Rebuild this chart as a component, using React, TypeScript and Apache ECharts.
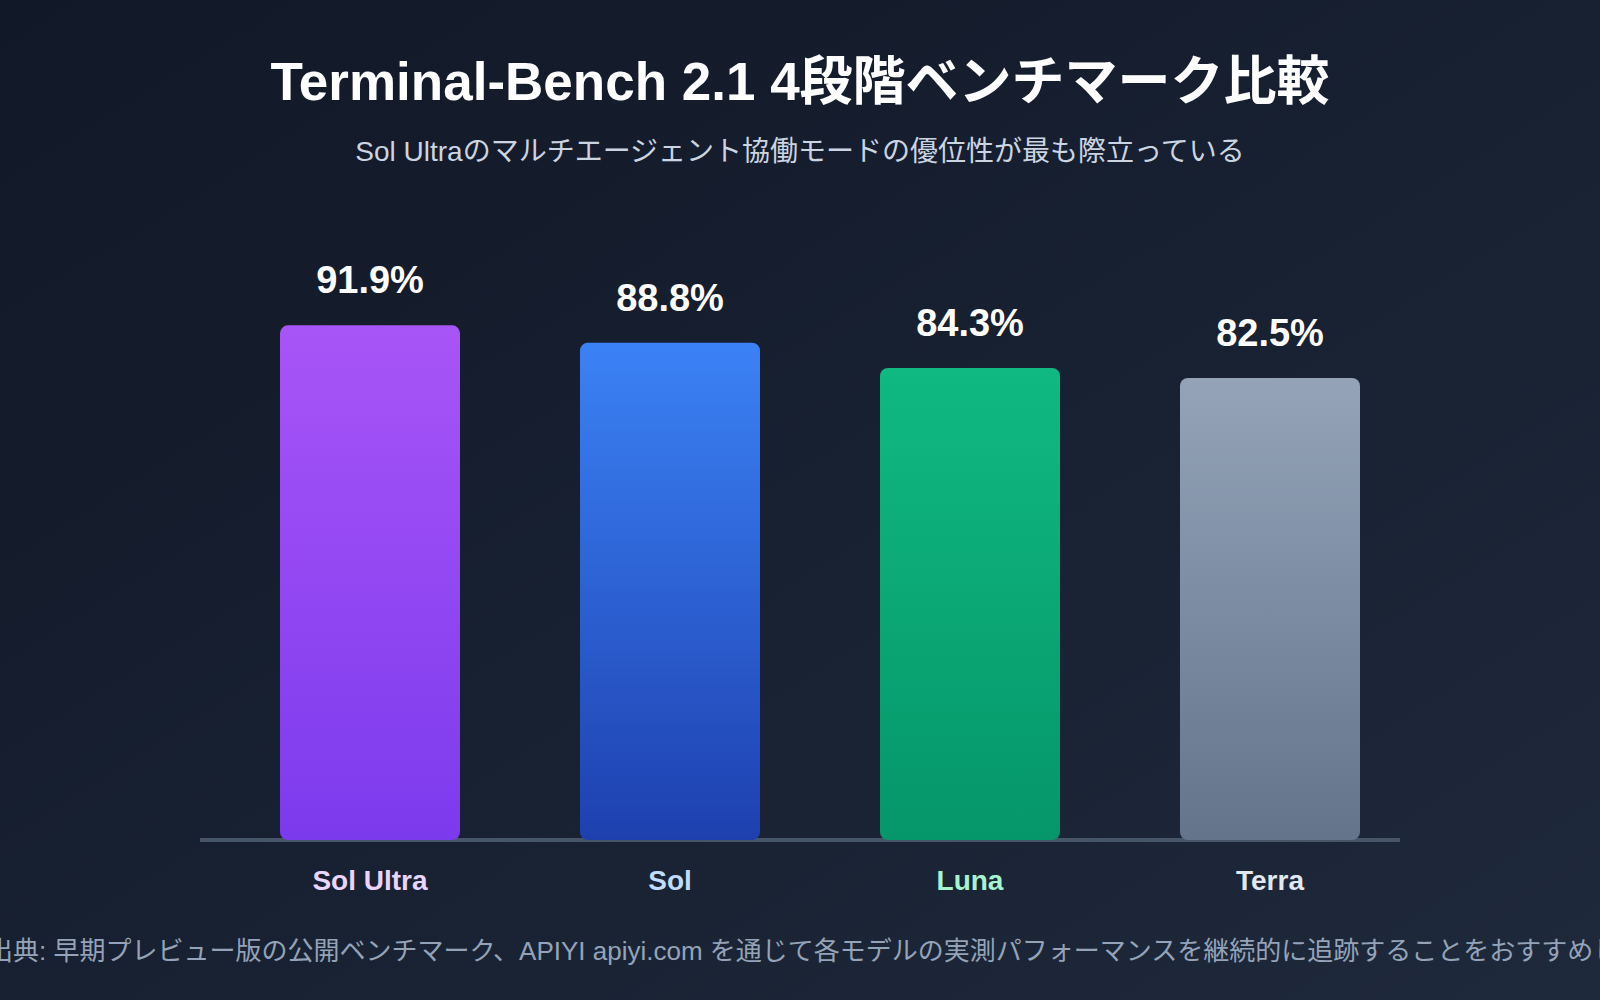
import React, { useEffect, useRef } from "react";
import * as echarts from "echarts";

const categories = ["Sol Ultra", "Sol", "Luna", "Terra"];
const scores = [91.9, 88.8, 84.3, 82.5];
const barTopColors = ["#a855f7", "#3b82f6", "#10b981", "#94a3b8"];
const barBottomColors = ["#7c3aed", "#1e40af", "#059669", "#64748b"];
const labelColors = ["#e9d5ff", "#bfdbfe", "#a7f3d0", "#e2e8f0"];

const titleText = "Terminal-Bench 2.1 4段階ベンチマーク比較";
const subtitleText = "Sol Ultraのマルチエージェント協働モードの優位性が最も際立っている";
const footerText =
  "出典: 早期プレビュー版の公開ベンチマーク、APIYI apiyi.com を通じて各モデルの実測パフォーマンスを継続的に追跡することをおすすめします";

const FONT = "'Liberation Sans', 'Noto Sans CJK JP', sans-serif";

export default function App() {
  const ref = useRef<HTMLDivElement>(null);
  useEffect(() => {
    document.body.style.margin = "0";
    const chart = echarts.init(ref.current!, null, { renderer: "svg" });
    chart.setOption({
      animation: false,
      backgroundColor: new echarts.graphic.LinearGradient(0, 0, 1, 1, [
        { offset: 0, color: "#111827" },
        { offset: 1, color: "#1e293b" },
      ]),
      textStyle: { fontFamily: FONT },
      title: [
        {
          text: titleText,
          left: "center",
          top: 50,
          textStyle: { color: "#ffffff", fontSize: 53, fontWeight: "bold", fontFamily: FONT },
        },
        {
          text: subtitleText,
          left: "center",
          top: 132,
          textStyle: { color: "#cbd5e1", fontSize: 28, fontWeight: "normal", fontFamily: FONT },
        },
      ],
      grid: { left: 220, right: 180, top: 280, bottom: 160 },
      xAxis: {
        type: "category",
        data: categories,
        axisLine: { show: false },
        axisTick: { show: false },
        axisLabel: {
          margin: 26,
          fontSize: 28,
          fontWeight: "bold",
          fontFamily: FONT,
          color: (_v: string, i: number) => labelColors[i],
        },
      },
      yAxis: {
        type: "value",
        min: 0,
        max: 100,
        show: false,
        splitLine: { show: false },
      },
      graphic: [
        {
          type: "line",
          z: 0,
          shape: { x1: 200, y1: 840, x2: 1400, y2: 840 },
          style: { stroke: "#475569", lineWidth: 4 },
        },
        {
          type: "text",
          x: -13,
          y: 938,
          style: {
            text: footerText,
            fill: "#94a3b8",
            fontSize: 26,
            fontFamily: FONT,
          },
        },
      ],
      series: [
        {
          type: "bar",
          z: 5,
          barWidth: 180,
          data: scores.map((v, i) => ({
            value: v,
            itemStyle: {
              borderRadius: 8,
              color: new echarts.graphic.LinearGradient(0, 0, 0, 1, [
                { offset: 0, color: barTopColors[i] },
                { offset: 1, color: barBottomColors[i] },
              ]),
            },
          })),
          label: {
            show: true,
            position: "top",
            distance: 26,
            color: "#ffffff",
            fontSize: 38,
            fontWeight: "bold",
            fontFamily: FONT,
            formatter: (p: any) => `${p.value}%`,
          },
        },
      ],
    });
    return () => chart.dispose();
  }, []);
  return <div ref={ref} style={{ width: 1600, height: 1000 }} />;
}
